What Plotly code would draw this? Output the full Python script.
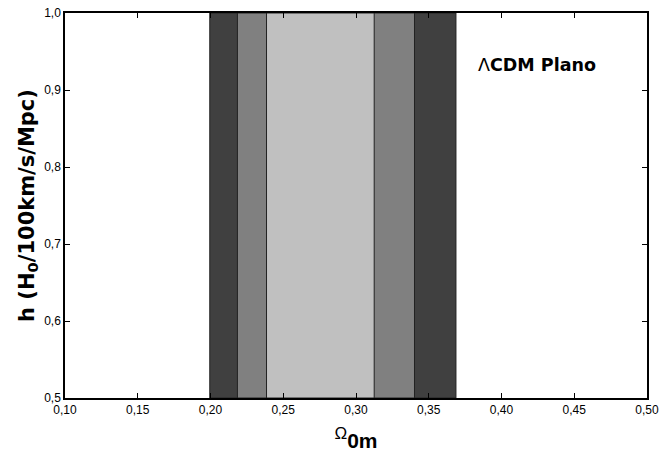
import plotly.graph_objects as go

# Confidence bands on Omega_0m (nested: 3 sigma, 2 sigma, 1 sigma)
band_names = ["3σ", "2σ", "1σ"]
band_lo = [0.1995, 0.2185, 0.2385]
band_hi = [0.3687, 0.3402, 0.3125]
band_colors = ["#404040", "#808080", "#c0c0c0"]

y_range = [0.5, 1.0]
x_ticks = [0.10, 0.15, 0.20, 0.25, 0.30, 0.35, 0.40, 0.45, 0.50]
y_ticks = [0.5, 0.6, 0.7, 0.8, 0.9, 1.0]

FONT = "Liberation Sans, Arial, Helvetica"
BOLD_FONT = "DejaVu Sans, Liberation Sans, Arial"

fig = go.Figure()
for name, lo, hi, col in zip(band_names, band_lo, band_hi, band_colors):
    fig.add_trace(go.Scatter(
        x=[lo, hi, hi, lo, lo],
        y=[y_range[0], y_range[0], y_range[1], y_range[1], y_range[0]],
        fill="toself", fillcolor=col, mode="lines",
        line=dict(color="#222222", width=1),
        name=name, showlegend=False, hoverinfo="skip"))

fig.add_annotation(x=0.4245, y=0.932, xref="x", yref="y",
                   text="Λ<b>CDM Plano</b>", showarrow=False,
                   font=dict(family=BOLD_FONT, size=17.5, color="black"))

axis_common = dict(showline=True, linecolor="black", linewidth=1.5, mirror="allticks",
                   ticks="inside", ticklen=5, tickwidth=1, tickcolor="black",
                   showgrid=False, zeroline=False, automargin=False,
                   tickfont=dict(family=FONT, size=12, color="black"),
                   minor=dict(ticks="inside", ticklen=3, tickcolor="black", tickwidth=1, nticks=2))

fig.update_xaxes(range=[0.10, 0.50], tickvals=x_ticks, tickformat=".2f",
                 title=dict(text="<sup><span style='font-size:17px'>Ω</span></sup><b>0m</b>",
                            standoff=17,
                            font=dict(family=FONT, size=21, color="black")),
                 **axis_common)
fig.update_yaxes(range=y_range, tickvals=y_ticks, tickformat=".1f",
                 title=dict(text="<b>h (H<sub>0</sub>/100km/s/Mpc)</b>", standoff=4,
                            font=dict(family=BOLD_FONT, size=21, color="black")),
                 **axis_common)

fig.update_layout(width=661, height=457, separators=",.",
                  margin=dict(l=65, r=14, t=13, b=59, autoexpand=False),
                  plot_bgcolor="white", paper_bgcolor="white")

fig.write_html("out.html", config={"displayModeBar": False},
               post_script="document.body.style.margin='0px';")
